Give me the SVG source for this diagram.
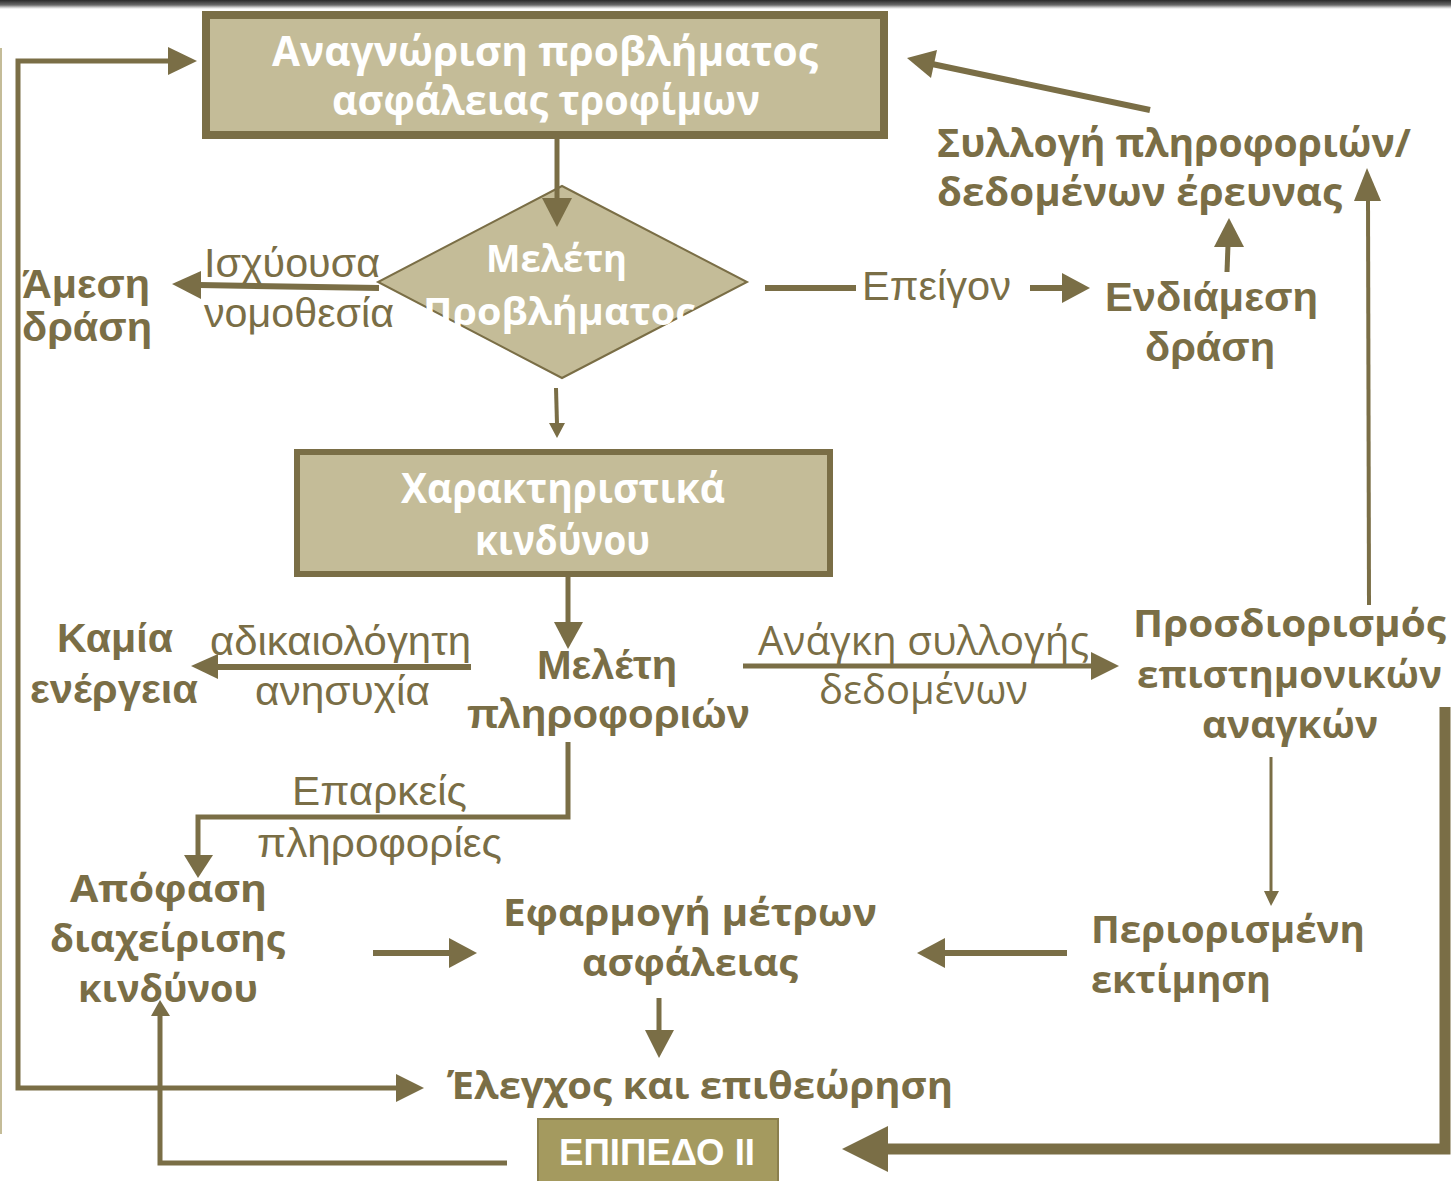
<svg xmlns="http://www.w3.org/2000/svg" width="1451" height="1181" viewBox="0 0 1451 1181">
<defs>
<linearGradient id="topbar" x1="0" y1="0" x2="0" y2="1">
<stop offset="0" stop-color="#2a2a2a"/>
<stop offset="0.55" stop-color="#6a6a6a"/>
<stop offset="0.8" stop-color="#c8c8c8"/>
<stop offset="1" stop-color="#ffffff"/>
</linearGradient>
</defs>
<style>
.ln{fill:none;stroke:#7a6e46;stroke-linejoin:miter;stroke-linecap:butt}
.hd{fill:#7a6e46;stroke:none}
.box{fill:#c4bc98;stroke:#7a6e46}
.wt{fill:#ffffff;font-family:"Open Sans","DejaVu Sans",sans-serif;font-weight:bold}
.ob{fill:#7a6e46;font-family:"Open Sans","DejaVu Sans",sans-serif;font-weight:bold}
.ab{fill:#7a6e46;font-family:"Liberation Sans",Arial,sans-serif;font-weight:bold}
.ar{fill:#7a6e46;font-family:"Liberation Sans",Arial,sans-serif;font-weight:normal}
.orr{fill:#7a6e46;font-family:"Open Sans","DejaVu Sans",sans-serif;font-weight:normal}
</style>
<rect x="0" y="0" width="1451" height="1181" fill="#ffffff"/>
<rect x="0" y="0" width="1451" height="9" fill="url(#topbar)"/>
<rect x="0" y="48" width="2" height="1086" fill="#c4bc98"/>

<g id="node-anagnorisi">
<rect class="box" x="206" y="15" width="678" height="120" stroke-width="8"/>
<text class="wt" x="272" y="66" font-size="41" textLength="546" lengthAdjust="spacingAndGlyphs">Αναγνώριση προβλήματος</text>
<text class="wt" x="332" y="115" font-size="41" textLength="428" lengthAdjust="spacingAndGlyphs">ασφάλειας τροφίμων</text>
</g>

<g id="node-meleti-provlimatos">
<polygon class="box" stroke-width="2" points="562,186 747,282 562,378 378,282"/>
<text class="wt" x="486" y="272" font-size="38" textLength="141" lengthAdjust="spacingAndGlyphs">Μελέτη</text>
<text class="wt" x="423" y="325" font-size="38" textLength="272" lengthAdjust="spacingAndGlyphs">Προβλήματος</text>
</g>

<g id="node-amesi-drasi">
<text class="ab" x="22" y="298" font-size="40" textLength="128" lengthAdjust="spacingAndGlyphs">Άμεση</text>
<text class="ab" x="22" y="341" font-size="40" textLength="130" lengthAdjust="spacingAndGlyphs">δράση</text>
</g>

<g id="label-ischyousa">
<text class="ar" x="204" y="277" font-size="41" textLength="176" lengthAdjust="spacingAndGlyphs">Ισχύουσα</text>
<text class="ar" x="204" y="327" font-size="41" textLength="190" lengthAdjust="spacingAndGlyphs">νομοθεσία</text>
</g>

<g id="label-epeigon">
<text class="ar" x="862" y="300" font-size="40" textLength="149" lengthAdjust="spacingAndGlyphs">Επείγον</text>
</g>

<g id="node-endiamesi">
<text class="ab" x="1105" y="311" font-size="40" textLength="213" lengthAdjust="spacingAndGlyphs">Ενδιάμεση</text>
<text class="ab" x="1145" y="361" font-size="40" textLength="130" lengthAdjust="spacingAndGlyphs">δράση</text>
</g>

<g id="node-syllogi">
<text class="ob" x="937" y="157" font-size="39" textLength="474" lengthAdjust="spacingAndGlyphs">Συλλογή πληροφοριών/</text>
<text class="ob" x="937" y="206" font-size="39" textLength="405" lengthAdjust="spacingAndGlyphs">δεδομένων έρευνας</text>
</g>

<g id="node-charaktiristika">
<rect class="box" x="297" y="452" width="533" height="122" stroke-width="6"/>
<text class="wt" x="401" y="503" font-size="42" textLength="324" lengthAdjust="spacingAndGlyphs">Χαρακτηριστικά</text>
<text class="wt" x="475" y="555" font-size="42" textLength="175" lengthAdjust="spacingAndGlyphs">κινδύνου</text>
</g>

<g id="node-kamia">
<text class="ab" x="57" y="652" font-size="40" textLength="116" lengthAdjust="spacingAndGlyphs">Καμία</text>
<text class="ab" x="30" y="703" font-size="40" textLength="168" lengthAdjust="spacingAndGlyphs">ενέργεια</text>
</g>

<g id="label-adikaiologiti">
<text class="ar" x="210" y="655" font-size="41" textLength="261" lengthAdjust="spacingAndGlyphs">αδικαιολόγητη</text>
<text class="ar" x="255" y="705" font-size="41" textLength="175" lengthAdjust="spacingAndGlyphs">ανησυχία</text>
</g>

<g id="node-meleti-pliroforion">
<text class="ab" x="537" y="679" font-size="41" textLength="140" lengthAdjust="spacingAndGlyphs">Μελέτη</text>
<text class="ab" x="467" y="728" font-size="41" textLength="283" lengthAdjust="spacingAndGlyphs">πληροφοριών</text>
</g>

<g id="label-anagki">
<text class="orr" x="758" y="655" font-size="40" textLength="331" lengthAdjust="spacingAndGlyphs">Ανάγκη συλλογής</text>
<text class="orr" x="819" y="704" font-size="40" textLength="209" lengthAdjust="spacingAndGlyphs">δεδομένων</text>
</g>

<g id="node-prosdiorismos">
<text class="ob" x="1133" y="637" font-size="38" textLength="313" lengthAdjust="spacingAndGlyphs">Προσδιορισμός</text>
<text class="ob" x="1137" y="688" font-size="38" textLength="305" lengthAdjust="spacingAndGlyphs">επιστημονικών</text>
<text class="ob" x="1202" y="738" font-size="38" textLength="176" lengthAdjust="spacingAndGlyphs">αναγκών</text>
</g>

<g id="label-eparkeis">
<text class="ar" x="292" y="805" font-size="40" textLength="175" lengthAdjust="spacingAndGlyphs">Επαρκείς</text>
<text class="ar" x="257" y="857" font-size="40" textLength="245" lengthAdjust="spacingAndGlyphs">πληροφορίες</text>
</g>

<g id="node-apofasi">
<text class="ob" x="70" y="902" font-size="38" textLength="197" lengthAdjust="spacingAndGlyphs">Απόφαση</text>
<text class="ob" x="50" y="952" font-size="38" textLength="235" lengthAdjust="spacingAndGlyphs">διαχείρισης</text>
<text class="ob" x="78" y="1002" font-size="38" textLength="180" lengthAdjust="spacingAndGlyphs">κινδύνου</text>
</g>

<g id="node-efarmogi">
<text class="ob" x="503" y="926" font-size="38" textLength="374" lengthAdjust="spacingAndGlyphs">Εφαρμογή μέτρων</text>
<text class="ob" x="582" y="976" font-size="38" textLength="216" lengthAdjust="spacingAndGlyphs">ασφάλειας</text>
</g>

<g id="node-periorismeni">
<text class="ob" x="1091" y="943" font-size="38" textLength="274" lengthAdjust="spacingAndGlyphs">Περιορισμένη</text>
<text class="ob" x="1091" y="993" font-size="38" textLength="180" lengthAdjust="spacingAndGlyphs">εκτίμηση</text>
</g>

<g id="node-elegchos">
<text class="ob" x="447" y="1099" font-size="38" textLength="506" lengthAdjust="spacingAndGlyphs">Έλεγχος και επιθεώρηση</text>
</g>

<g id="node-epipedo">
<rect x="538" y="1119" width="240" height="70" fill="#a49a5f" stroke="#8a7f4d" stroke-width="2"/>
<text x="559" y="1165" font-size="36" fill="#ffffff" font-family="Liberation Sans, Arial, sans-serif" font-weight="bold" textLength="196" lengthAdjust="spacingAndGlyphs">ΕΠΙΠΕΔΟ ΙΙ</text>
</g>

<g id="connectors">
<path class="ln" stroke-width="5" d="M399,1088 H18 V61 H170"/>
<polygon class="hd" points="197,61 168,47 168,75"/>
<polygon class="hd" points="424,1088 396,1074 396,1102"/>
<path class="ln" stroke-width="5" d="M557,139 V200"/>
<polygon class="hd" points="542,198 572,198 557,227"/>
<path class="ln" stroke-width="4" d="M556,388 L557,424"/>
<polygon class="hd" points="549,423 565,423 557,438"/>
<path class="ln" stroke-width="6" d="M379,288 L199,285"/>
<polygon class="hd" points="172,284 201,271 201,299"/>
<path class="ln" stroke-width="6" d="M765,288 H856"/>
<path class="ln" stroke-width="6" d="M1030,288 H1064"/>
<polygon class="hd" points="1090,288 1062,273 1062,303"/>
<path class="ln" stroke-width="5" d="M1227,272 L1228,245"/>
<polygon class="hd" points="1229,218 1214,247 1244,247"/>
<path class="ln" stroke-width="6" d="M1150,110 L932,64"/>
<polygon class="hd" points="907,58 937,50 931,78"/>
<path class="ln" stroke-width="4" d="M1369,605 L1368,198"/>
<polygon class="hd" points="1367,168 1354,201 1381,201"/>
<path class="ln" stroke-width="5" d="M568,577 V624"/>
<polygon class="hd" points="554,622 583,622 568,649"/>
<path class="ln" stroke-width="6" d="M471,667 H215"/>
<polygon class="hd" points="191,666 218,654 218,679"/>
<path class="ln" stroke-width="5" d="M743,666 H1093"/>
<polygon class="hd" points="1119,666 1091,652 1091,680"/>
<path class="ln" stroke-width="5" d="M568,742 V817 H198 V857"/>
<polygon class="hd" points="198,878 184,855 213,855"/>
<path class="ln" stroke-width="3" d="M1271,757 V893"/>
<polygon class="hd" points="1271,906 1264,891 1279,891"/>
<path class="ln" stroke-width="6" d="M373,953 H452"/>
<polygon class="hd" points="477,953 449,938 449,968"/>
<path class="ln" stroke-width="6" d="M1067,953 H942"/>
<polygon class="hd" points="917,953 945,938 945,968"/>
<path class="ln" stroke-width="5" d="M659,998 V1032"/>
<polygon class="hd" points="659,1058 645,1030 674,1030"/>
<path class="ln" stroke-width="5" d="M507,1163 H160 V1013"/>
<polygon class="hd" points="160,1000 151,1016 170,1016"/>
<path class="ln" stroke-width="11" d="M1445,707 V1149 H885"/>
<polygon class="hd" points="842,1149 888,1126 888,1172"/>
</g>
</svg>
